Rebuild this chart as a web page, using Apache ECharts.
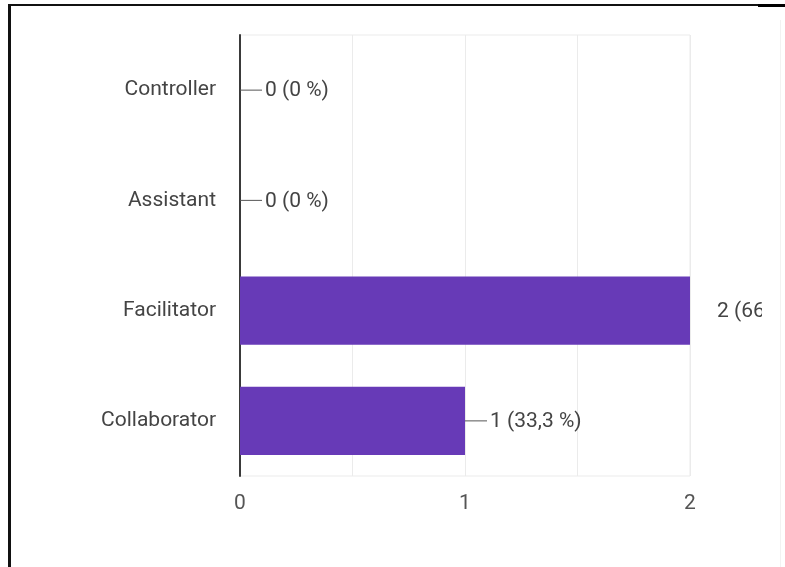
<!DOCTYPE html>
<html>
<head>
<meta charset="utf-8">
<script src="https://cdn.jsdelivr.net/npm/echarts@6/dist/echarts.min.js"></script>
<style>
  html, body { margin: 0; padding: 0; background: #fff; }
  #chart { width: 785px; height: 567px; }
</style>
</head>
<body>
<div id="chart"></div>
<script>
// Response counts per role, listed top to bottom
const categories = ['Controller', 'Assistant', 'Facilitator', 'Collaborator'];
const counts = [0, 0, 2, 1];
const xTickLabels = ['0', '1', '2'];

const total = counts.reduce((a, b) => a + b, 0);

function pctText(v) {
  const p = total ? (v / total) * 100 : 0;
  const s = Number.isInteger(p) ? String(p) : p.toFixed(1).replace('.', ',');
  return v + ' (' + s + ' %)';
}

const FONT = 'Roboto, "Noto Sans", sans-serif';
const TEXT = '#444';

const chart = echarts.init(document.getElementById('chart'), null, { renderer: 'canvas' });

const seriesData = counts.map((v, i) => {
  const item = { value: v };
  // the longest bar reaches the plot edge, its leader is hidden there
  if (v === Math.max(...counts)) {
    item.label = {
      rich: { line: { width: 24, height: 1, backgroundColor: 'rgba(0,0,0,0)' } }
    };
  }
  return item;
});

chart.setOption({
  animation: false,
  backgroundColor: '#fff',
  textStyle: { fontFamily: FONT },
  grid: {
    left: 240, right: 95, top: 35, bottom: 91,
    show: true, borderColor: '#ebebeb', borderWidth: 1
  },
  xAxis: {
    type: 'value',
    min: 0, max: 2, interval: 0.5,
    axisLine: { show: false },
    axisTick: { show: false },
    splitLine: { show: true, lineStyle: { color: '#ebebeb', width: 1 } },
    axisLabel: {
      margin: 17,
      fontSize: 21,
      color: '#555',
      fontFamily: FONT,
      formatter: v => (Number.isInteger(v) ? xTickLabels[v] : '')
    }
  },
  yAxis: {
    type: 'category',
    inverse: true,
    data: categories,
    axisLine: { show: true, lineStyle: { color: '#3a3a3a', width: 2 } },
    axisTick: { show: false },
    splitLine: { show: false },
    axisLabel: { margin: 24, fontSize: 21, color: TEXT, fontFamily: FONT, padding: [3, 0, 0, 0] }
  },
  series: [{
    type: 'bar',
    data: seriesData,
    barWidth: '62%',
    itemStyle: { color: '#673ab7' },
    label: {
      show: true,
      position: 'right',
      distance: 0,
      formatter: p => '{line|}{val|' + pctText(p.value) + '}',
      rich: {
        line: { width: 22, height: 1, backgroundColor: '#555' },
        val: { fontSize: 21, color: TEXT, fontFamily: FONT, padding: [2, 0, 0, 3] }
      }
    }
  }],
  graphic: [
    // right margin mask over long labels
    { type: 'rect', left: 762, top: 8, shape: { width: 23, height: 559 }, style: { fill: '#fff' }, z: 100 },
    { type: 'rect', left: 780, top: 20, shape: { width: 1, height: 547 }, style: { fill: '#f2f2f2' }, z: 101 },
    // outer frame
    { type: 'rect', left: 9, top: 4, shape: { width: 749, height: 2 }, style: { fill: '#111' }, z: 101 },
    { type: 'rect', left: 758, top: 4, shape: { width: 27, height: 3 }, style: { fill: '#000' }, z: 101 },
    { type: 'rect', left: 8, top: 4, shape: { width: 3, height: 563 }, style: { fill: '#111' }, z: 101 }
  ]
});
</script>
</body>
</html>
